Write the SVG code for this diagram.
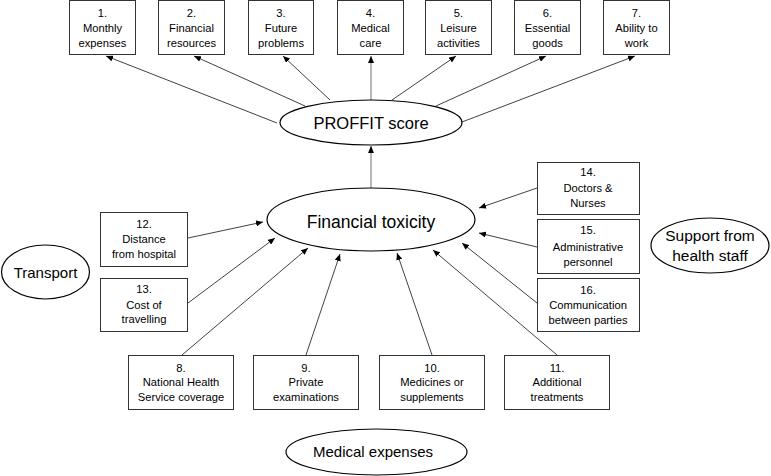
<svg xmlns="http://www.w3.org/2000/svg" width="771" height="476" viewBox="0 0 771 476">
<defs>
<marker id="ah" markerUnits="userSpaceOnUse" markerWidth="8" markerHeight="6" refX="7" refY="3" orient="auto">
<path d="M0,0 L7,3 L0,6 z" fill="#000"/>
</marker>
<style>
.box{fill:#fff;stroke:#333;stroke-width:1}
.ell{fill:#fff;stroke:#000;stroke-width:1.2}
.t{font-family:"Liberation Sans",Arial,sans-serif;font-size:11.2px;fill:#000;text-anchor:middle}
.big{font-family:"Liberation Sans",Arial,sans-serif;fill:#000;text-anchor:middle}
.c{stroke:#111;stroke-width:0.8;fill:none;marker-end:url(#ah)}
.cv{stroke:#888;stroke-width:1.2;fill:none;marker-end:url(#ah)}
</style>
</defs>
<rect width="771" height="476" fill="#fff"/>

<g id="connectors">
<line class="c" x1="277" y1="123" x2="106" y2="56"/>
<line class="c" x1="305" y1="106" x2="194" y2="56"/>
<line class="c" x1="330" y1="100" x2="283" y2="56"/>
<line class="cv" x1="371" y1="100" x2="371" y2="56"/>
<line class="c" x1="392" y1="100" x2="456" y2="56"/>
<line class="c" x1="436" y1="106" x2="546" y2="56"/>
<line class="c" x1="462" y1="122" x2="635" y2="56"/>
<line class="cv" x1="371" y1="188" x2="371" y2="146"/>
<line class="c" x1="188" y1="238" x2="263" y2="222"/>
<line class="c" x1="188" y1="303" x2="275" y2="238"/>
<line class="c" x1="182" y1="355" x2="308" y2="248"/>
<line class="c" x1="306" y1="355" x2="340" y2="254"/>
<line class="c" x1="432" y1="355" x2="397" y2="253"/>
<line class="c" x1="557" y1="355" x2="433" y2="250"/>
<line class="c" x1="537" y1="188" x2="479" y2="208"/>
<line class="c" x1="537" y1="247" x2="479" y2="233"/>
<line class="c" x1="537" y1="303" x2="462" y2="243"/>
</g>

<g id="n1"><rect class="box" x="69.5" y="0.5" width="66" height="54"/><text class="t" x="102.5" y="17">1.</text><text class="t" x="102.5" y="32">Monthly</text><text class="t" x="102.5" y="47">expenses</text></g>
<g id="n2"><rect class="box" x="158.5" y="0.5" width="66" height="54"/><text class="t" x="191.5" y="17">2.</text><text class="t" x="191.5" y="32">Financial</text><text class="t" x="191.5" y="47">resources</text></g>
<g id="n3"><rect class="box" x="248.5" y="0.5" width="65" height="54"/><text class="t" x="281" y="17">3.</text><text class="t" x="281" y="32">Future</text><text class="t" x="281" y="47">problems</text></g>
<g id="n4"><rect class="box" x="337.5" y="0.5" width="66" height="54"/><text class="t" x="370.5" y="17">4.</text><text class="t" x="370.5" y="32">Medical</text><text class="t" x="370.5" y="47">care</text></g>
<g id="n5"><rect class="box" x="425.5" y="0.5" width="66" height="54"/><text class="t" x="458.5" y="17">5.</text><text class="t" x="458.5" y="32">Leisure</text><text class="t" x="458.5" y="47">activities</text></g>
<g id="n6"><rect class="box" x="514.5" y="0.5" width="66" height="54"/><text class="t" x="547.5" y="17">6.</text><text class="t" x="547.5" y="32">Essential</text><text class="t" x="547.5" y="47">goods</text></g>
<g id="n7"><rect class="box" x="603.5" y="0.5" width="66" height="54"/><text class="t" x="636.5" y="17">7.</text><text class="t" x="636.5" y="32">Ability to</text><text class="t" x="636.5" y="47">work</text></g>

<g id="proffit"><ellipse class="ell" cx="371" cy="122.5" rx="91" ry="22.5"/><text class="big" x="371" y="129" font-size="16.5px">PROFFIT score</text></g>
<g id="toxicity"><ellipse class="ell" cx="371" cy="219.5" rx="104" ry="31.5"/><text class="big" x="371" y="228" font-size="17.5px">Financial toxicity</text></g>

<g id="n12"><rect class="box" x="100.5" y="212.5" width="87" height="54"/><text class="t" x="144" y="228">12.</text><text class="t" x="144" y="243">Distance</text><text class="t" x="144" y="258">from hospital</text></g>
<g id="n13"><rect class="box" x="100.5" y="278.5" width="87" height="53"/><text class="t" x="144" y="293">13.</text><text class="t" x="144" y="309">Cost of</text><text class="t" x="144" y="323">travelling</text></g>
<g id="transport"><ellipse class="ell" cx="45.5" cy="272" rx="44" ry="27"/><text class="big" x="45.5" y="278" font-size="15px">Transport</text></g>

<g id="n14"><rect class="box" x="537.5" y="162.5" width="102" height="52"/><text class="t" x="588" y="176">14.</text><text class="t" x="588" y="192">Doctors &amp;</text><text class="t" x="588" y="207">Nurses</text></g>
<g id="n15"><rect class="box" x="537.5" y="219.5" width="102" height="54"/><text class="t" x="588" y="234">15.</text><text class="t" x="588" y="251">Administrative</text><text class="t" x="588" y="266">personnel</text></g>
<g id="n16"><rect class="box" x="537.5" y="278.5" width="102" height="53"/><text class="t" x="588" y="294">16.</text><text class="t" x="588" y="309">Communication</text><text class="t" x="588" y="324">between parties</text></g>
<g id="support"><ellipse class="ell" cx="710" cy="245.5" rx="59" ry="27.5"/><text class="big" x="710" y="241" font-size="15.5px">Support from</text><text class="big" x="710" y="261" font-size="15.5px">health staff</text></g>

<g id="n8"><rect class="box" x="128.5" y="355.5" width="105" height="54"/><text class="t" x="181" y="372">8.</text><text class="t" x="181" y="386">National Health</text><text class="t" x="181" y="401">Service coverage</text></g>
<g id="n9"><rect class="box" x="253.5" y="355.5" width="105" height="54"/><text class="t" x="306" y="372">9.</text><text class="t" x="306" y="386">Private</text><text class="t" x="306" y="401">examinations</text></g>
<g id="n10"><rect class="box" x="379.5" y="355.5" width="105" height="54"/><text class="t" x="432" y="372">10.</text><text class="t" x="432" y="386">Medicines or</text><text class="t" x="432" y="401">supplements</text></g>
<g id="n11"><rect class="box" x="504.5" y="355.5" width="105" height="54"/><text class="t" x="557" y="372">11.</text><text class="t" x="557" y="386">Additional</text><text class="t" x="557" y="401">treatments</text></g>
<g id="medical"><ellipse class="ell" cx="376.5" cy="452" rx="90.5" ry="23"/><text class="big" x="373" y="457" font-size="15px">Medical expenses</text></g>
</svg>
